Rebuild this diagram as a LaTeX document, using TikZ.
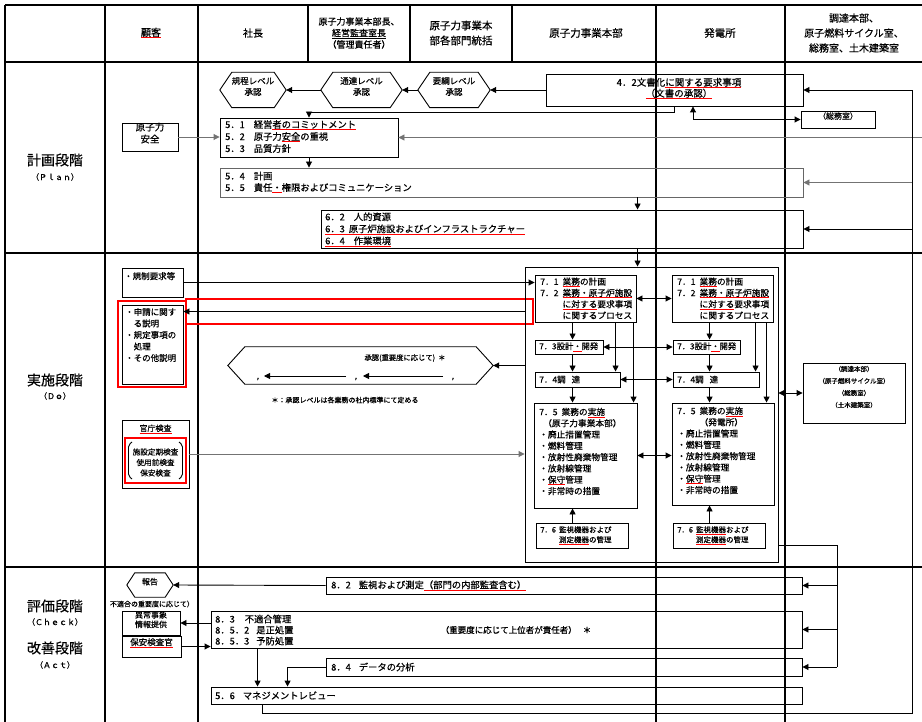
\documentclass[tikz,border=0pt]{standalone}
\usepackage{fontspec}
\setmainfont{Noto Sans CJK JP}[FakeBold=0.5]
\usetikzlibrary{arrows.meta,fit,calc}
\newsavebox\rubox
\newcommand\ru[1]{\sbox\rubox{#1}\rlap{\textcolor{red}{\rule[-2.2pt]{\wd\rubox}{0.9pt}}}\usebox\rubox}
\newcommand\fs[2]{\fontsize{#1}{#2}\selectfont}
\newcommand\hexdraw[2]{\draw[line width=0.9pt] ([xshift=#2]#1.north west) -- ([xshift=-#2]#1.north east) -- (#1.east) -- ([xshift=-#2]#1.south east) -- ([xshift=#2]#1.south west) -- (#1.west) -- cycle;}
\begin{document}
\begin{tikzpicture}[x=1pt,y=-1pt,
  >={Triangle[length=6pt,width=6pt]},
  box/.style={draw,line width=0.9pt,inner sep=0pt,fit={#1}},
  gbox/.style={draw=black!60,line width=0.9pt,inner sep=0pt,fit={#1}},
  rbox/.style={draw=red,line width=1.5pt,inner sep=0pt,fit={#1}},
  hexn/.style={inner sep=0pt,fit={#1},align=center},
  grid/.style={line width=1.1pt},
  conn/.style={line width=0.9pt},
  arr/.style={conn,->},
  dbl/.style={conn,<->},
  garr/.style={arr,draw=black!55},
  txt/.style={inner sep=0pt,align=left,anchor=west},
  ctr/.style={inner sep=0pt,align=center}]
\fill[white] (0,0) rectangle (922,722);
\useasboundingbox (0,0) rectangle (922,722);
% table grid
\draw[grid] (5,5) -- (922,5);
\draw[grid] (5,62) -- (922,62);
\draw[grid] (5,253) -- (922,253);
\draw[grid] (5,567) -- (922,567);
\draw[grid] (5,5) -- (5,722);
\draw[grid] (105,5) -- (105,722);
\draw[line width=1.8pt] (198,5) -- (198,722);
\draw[grid] (308,5) -- (308,62);
\draw[grid] (410,5) -- (410,62);
\draw[grid] (512,5) -- (512,62);
\draw[grid] (656,5) -- (656,722);
\draw[grid] (785,5) -- (785,722);
% header
\node[ctr,font=\fs{10}{12}] (hK) at (151,33) {\ru{顧客}};
\node[ctr,font=\fs{10}{12}] (hS) at (253,33) {社長};
\node[ctr,font=\fs{9}{11.5}] (hH) at (359,33) {原子力事業本部長、\\\underline{経営監査室長}\\（管理責任者）};
\node[ctr,font=\fs{10.5}{15}] (hT) at (461,33) {原子力事業本\\部各部門統括};
\node[ctr,font=\fs{10.5}{12}] (hG) at (586,33) {原子力事業本部};
\node[ctr,font=\fs{10.5}{12}] (hP) at (720,33) {発電所};
\node[ctr,font=\fs{10}{15}] (hC) at (854,33) {調達本部、\\原子燃料サイクル室、\\総務室、土木建築室};
% stage labels
\node[ctr,font=\fs{14}{16}] (lP) at (55,160) {計画段階};
\node[ctr,font=\fs{8}{10}] (lPe) at (55,177) {（Ｐｌａｎ）};
\node[ctr,font=\fs{14}{16}] (lD) at (55,380) {実施段階};
\node[ctr,font=\fs{8}{10}] (lDe) at (55,396) {（Ｄｏ）};
\node[ctr,font=\fs{14}{16}] (lC) at (55,606) {評価段階};
\node[ctr,font=\fs{8}{10}] (lCe) at (55,622) {（Ｃｈｅｃｋ）};
\node[ctr,font=\fs{14}{16}] (lA) at (55,648) {改善段階};
\node[ctr,font=\fs{8}{10}] (lAe) at (55,665) {（Ａｃｔ）};
% ===== Plan =====
\node[hexn={(220,72.5)(286,107.5)},font=\fs{8.5}{11}] (h1) {規程レベル\\承認};
\hexdraw{h1}{12}
\node[hexn={(321,72.5)(402,107.5)},font=\fs{8.5}{11}] (h2) {通達レベル\\承認};
\hexdraw{h2}{12}
\node[hexn={(418,72.5)(490,107.5)},font=\fs{8.5}{11}] (h3) {要綱レベル\\承認};
\hexdraw{h3}{12}
\node[box={(546,74)(803,106)}] (b42) {};
\node[ctr,font=\fs{9.5}{11}] (t42) at (679,88.5) {4．2文書化\ru{に関する要求事項}\\\ru{（文書の承認）}};
\node[box={(801,111)(875,128)},font=\fs{8}{10}] (somu) {（総務室）};
\node[box={(220,118)(398,157)}] (b51) {};
\node[txt,font=\fs{9.3}{12}] (t51) at (225,136.5) {5．1\hspace{9pt}経営\ru{者のコミットメント}\\5．2\hspace{9pt}原子力\ru{安全}の重視\\5．3\hspace{9pt}品質方針};
\node[box={(122,123)(178,151)},font=\fs{9.5}{12}] (gen) {原子力\\安全};
\node[gbox={(220,168)(803,197)}] (b54) {};
\node[txt,font=\fs{9.3}{11.5}] (t54) at (225,182.5) {5．4\hspace{9pt}計画\\5．5\hspace{9pt}責任\ru{・}権限およびコミュニケーション};
\node[box={(321,210)(803,248)}] (b62) {};
\node[txt,font=\fs{9.3}{12}] (t62) at (325,229.5) {6．2\hspace{9pt}人的資源\\\ru{6．3\hspace{4pt}原子炉施設およびインフラストラクチャー}\\\ru{6．4\hspace{9pt}作業環境}};
% plan connectors
\draw[arr] (b42.west) -- (h3.east);
\draw[arr] (h3.west) -- (h2.east);
\draw[arr] (h2.west) -- (h1.east);
\draw[arr] (b42.south) -- ++(0,6) -| (b51.north);
\coordinate (x693) at ([xshift=18.5]b42.south);
\draw[dbl] (x693) |- (somu.west);
\draw[garr] (gen.east) -- (gen.east -| b51.west);
\coordinate (ext51) at (922,137.5);
\draw[garr] (ext51) -- (b51.east);
\draw[arr] (b51.south) -- (b51.south |- b54.north);
\coordinate (x638) at ([xshift=317]b62.north west);
\draw[arr] (x638 |- b54.south) -- (x638);
% ===== Do =====
\node[box={(122,268)(183,297)}] (kisei) {};
\node[txt,anchor=north west,font=\fs{8.5}{11}] (tkisei) at (124,272) {・規制要求等};
\node[box={(122,305)(183,384)}] (shinsei) {};
\node[rbox={(118,301)(186,387)}] (shinseiR) {};
\node[txt,font=\fs{8.5}{11.5}] (tshinsei) at (125,335) {・申請に関す\\\hspace*{8.5pt}る説明\\・規定事項の\\\hspace*{8.5pt}処理\\・その他説明};
\node[rbox={(186,299)(533,324)}] (redbar) {};
\node[hexn={(228,347)(493,384)}] (shonin) {};
\hexdraw{shonin}{17}
\node[ctr,font=\fs{7.3}{9}] (tshonin) at (405,358) {承認(重要度に応じて)\hspace{3pt}＊};
\node[ctr,font=\fs{8}{9}] (c1) at (258,379) {,};
\node[ctr,font=\fs{8}{9}] (c2) at (356,379) {,};
\node[ctr,font=\fs{8}{9}] (c3) at (453,379) {,};
\draw[arr] ([xshift=-10,yshift=3]c3.center) -- ([xshift=7,yshift=3]c2.center);
\draw[arr] ([xshift=-10,yshift=3]c2.center) -- ([xshift=6,yshift=3]c1.center);
\node[ctr,font=\fs{7}{8}] (tnote) at (345,400) {＊：承認レベルは各業務の社内標準にて定める};
\node[box={(122,420)(189,488)}] (kancho) {};
\node[ctr,font=\fs{8}{9}] (tkancho) at (155.5,429) {\ru{官庁検査}};
\node[rbox={(125,438)(186,483)}] (kanchoR) {};
\draw[line width=0.9pt,rounded corners=2pt] (132,442) -- (128.5,445) -- (128.5,476) -- (132,479);
\draw[line width=0.9pt,rounded corners=2pt] (179,442) -- (182.5,445) -- (182.5,476) -- (179,479);
\node[ctr,font=\fs{7.6}{10.5}] (tkancho2) at (155.5,462.5) {施設定期検査\\使用前検査\\保安検査};
% block 7
\node[box={(525,267)(778,562)}] (outer7) {};
\node[box={(535,275)(636,322)}] (b71L) {};
\node[txt,font=\fs{8.7}{11.3}] (t71L) at (540,298.5) {7．1\hspace{4pt}\ru{業務}の計画\\7．2\hspace{4pt}\ru{業務・原子炉施設}\\\phantom{7．2\hspace{4pt}}\ru{に対する}要求事項\\\phantom{7．2\hspace{4pt}}に関するプロセス};
\node[box={(672,275)(773,322)}] (b71R) {};
\node[txt,font=\fs{8.7}{11.3}] (t71R) at (677,298.5) {7．1\hspace{4pt}\ru{業務}の計画\\7．2\hspace{4pt}\ru{業務・原子炉施設}\\\phantom{7．2\hspace{4pt}}\ru{に対する}要求事項\\\phantom{7．2\hspace{4pt}}に関するプロセス};
\node[box={(535,340)(603,354)}] (b73L) {};
\node[txt,font=\fs{8.3}{10}] (t73L) at (539,347) {7．3設計\ru{・}開発};
\node[box={(673,340)(740,354)}] (b73R) {};
\node[txt,font=\fs{8.3}{10}] (t73R) at (677,347) {7．3設計\ru{・}開発};
\node[box={(535,372)(620,387)}] (b74L) {};
\node[txt,font=\fs{8.5}{10}] (t74L) at (539,379.5) {7．4調\hspace{6pt}達};
\node[box={(673,372)(759,387)}] (b74R) {};
\node[txt,font=\fs{8.5}{10}] (t74R) at (677,379.5) {7．4調\hspace{6pt}達};
\node[box={(534,403)(637,508)}] (b75L) {};
\node[txt,font=\fs{8.7}{11.3}] (t75L) at (539,451.5) {7．5\hspace{4pt}業務の\ru{実施}\\\hspace*{4pt}（原子力事業本部）\\・廃止措置管理\\・燃料管理\\・放射性廃棄物管理\\・放射線管理\\・\ru{保守}管理\\・非常時の措置};
\node[box={(672,403)(774,505)}] (b75R) {};
\node[txt,font=\fs{8.7}{11.3}] (t75R) at (677,450.5) {7．5\hspace{4pt}業務の\ru{実施}\\\phantom{7．5\hspace{4pt}}（発電所）\\・廃止措置管理\\・燃料管理\\・放射性廃棄物管理\\・放射線管理\\・\ru{保守}管理\\・非常時の措置};
\node[box={(536,523)(628,548)}] (b76L) {};
\node[txt,font=\fs{7.5}{10}] (t76L) at (540,535.5) {7．6\hspace{3pt}監視機器および\\\phantom{7．6\hspace{3pt}}\ru{測定機器}の管理};
\node[box={(673,523)(765,548)}] (b76R) {};
\node[txt,font=\fs{7.5}{10}] (t76R) at (677,535.5) {7．6\hspace{3pt}\ru{監視機器}および\\\phantom{7．6\hspace{3pt}}\ru{測定機器}の管理};
\node[box={(803,363)(905,423)}] (chotatsu) {};
\node[ctr,font=\fs{6.5}{12}] (tchotatsu) at (854,387) {（調達本部）\\（原子燃料サイクル室）\\（総務室）\\（土木建築室）};
% do connectors
\draw[arr] (x638 |- b62.south) -- (x638 |- outer7.north);
\draw[arr] (kisei.east) -- (kisei.east -| b71L.west);
\draw[arr] (outer7.west |- redbar.center) -- (shinsei.east |- redbar.center);
\draw[arr] (outer7.west |- shonin.east) -- (shonin.east);
\draw[garr] (kancho.east) -- (kancho.east -| outer7.west);
\draw[dbl] (outer7.east |- chotatsu.west) -- (chotatsu.west);
\draw[dbl] (b71L.east) -- (b71L.east -| b71R.west);
\draw[dbl] (b73L.east) -- (b73L.east -| b73R.west);
\draw[dbl] (b74L.east) -- (b74L.east -| b74R.west);
\draw[dbl] (b75L.east) -- (b75L.east -| b75R.west);
\coordinate (vL1) at ([xshift=38]b71L.south west);
\coordinate (vL2) at ([xshift=81]b71L.south west);
\coordinate (vL3) at ([xshift=99]b71L.south west);
\coordinate (vR1) at ([xshift=38]b71R.south west);
\coordinate (vR2) at ([xshift=84]b71R.south west);
\coordinate (vR3) at ([xshift=95]b71R.south west);
\draw[arr] (vL1) -- (vL1 |- b73L.north);
\draw[arr] (vL1 |- b73L.south) -- (vL1 |- b74L.north);
\draw[arr] (vL1 |- b74L.south) -- (vL1 |- b75L.north);
\draw[arr] (vL1 |- b76L.north) -- (vL1 |- b75L.south);
\draw[arr] (vL2) -- (vL2 |- b74L.north);
\draw[arr] (vL3) -- (vL3 |- b75L.north);
\draw[arr] (vR1) -- (vR1 |- b73R.north);
\draw[arr] (vR1 |- b73R.south) -- (vR1 |- b74R.north);
\draw[arr] (vR1 |- b74R.south) -- (vR1 |- b75R.north);
\draw[arr] (vR1 |- b76R.north) -- (vR1 |- b75R.south);
\draw[arr] (vR2) -- (vR2 |- b74R.north);
\draw[arr] (vR3) -- (vR3 |- b75R.north);
% ===== Check / Act =====
\node[hexn={(127,573)(173,597)},font=\fs{8}{9}] (hokoku) {報告};
\hexdraw{hokoku}{8}
\node[ctr,font=\fs{7}{8}] (thokoku) at (152,604) {不適合の重要度に応じて）};
\node[box={(122,611)(180,635)},font=\fs{8}{9.5}] (ijo) {異常事象\\情報提供};
\node[box={(122,636)(181,657)},font=\fs{8.5}{10}] (hoan) {\ru{保安検査官}};
\node[box={(326,577)(802,594)}] (b82) {};
\node[txt,font=\fs{9.3}{11}] (t82) at (331,585.5) {8．2\hspace{8pt}監視および測定\ru{（部門の内部監査含む）}};
\node[box={(211,611)(802,648)}] (b83) {};
\node[txt,font=\fs{9.3}{11}] (t83) at (215,630) {8．3\hspace{10pt}不適合管理\\8．5．2\hspace{7pt}是正処置\\8．5．3\hspace{7pt}予防処置};
\node[ctr,font=\fs{8.5}{10}] (t83b) at (516,630) {（重要度に応じて上位者が責任者）\hspace{6pt}＊};
\node[box={(326,658)(802,676)}] (b84) {};
\node[txt,font=\fs{9.3}{11}] (t84) at (331,667) {8．4\hspace{8pt}データの分析};
\node[box={(211,687)(802,704)}] (b56) {};
\node[txt,font=\fs{9.3}{11}] (t56) at (215,695.5) {5．6\hspace{8pt}マネジメントレビュー};
% check connectors
\draw[arr] (b82.west) -- (hokoku.east);
\draw[arr] (b83.west |- ijo.east) -- (ijo.east);
\draw[arr] (hoan.east) -- (hoan.east -| b83.west);
\coordinate (x258) at ([xshift=47]b83.south west);
\draw[arr] (x258) -- (x258 |- b56.north);
\coordinate (x288) at ([xshift=77]b56.north west);
\draw[arr] (b84.west) -| (x288);
\coordinate (ckTop) at (837,545);
\coordinate (ckBot) at (837,667);
\draw[conn] (outer7.east |- ckTop) -- (ckTop) -- (ckBot);
\draw[arr] (b82.east -| ckTop) -- (b82.east);
\draw[arr] (b83.east -| ckTop) -- (b83.east);
\draw[arr] (ckBot) -- (b84.east);
% feedback loop
\coordinate (x263) at ([xshift=52]b56.south west);
\coordinate (fbBR) at (912,713);
\coordinate (fbTR) at (912,90);
\draw[conn] (x263) |- (fbBR) -- (fbTR);
\draw[arr] (fbTR) -- (b42.east);
\draw[garr] (b54.east -| fbTR) -- (b54.east);
\draw[arr] (b62.east -| fbTR) -- (b62.east);
\end{tikzpicture}
\end{document}
